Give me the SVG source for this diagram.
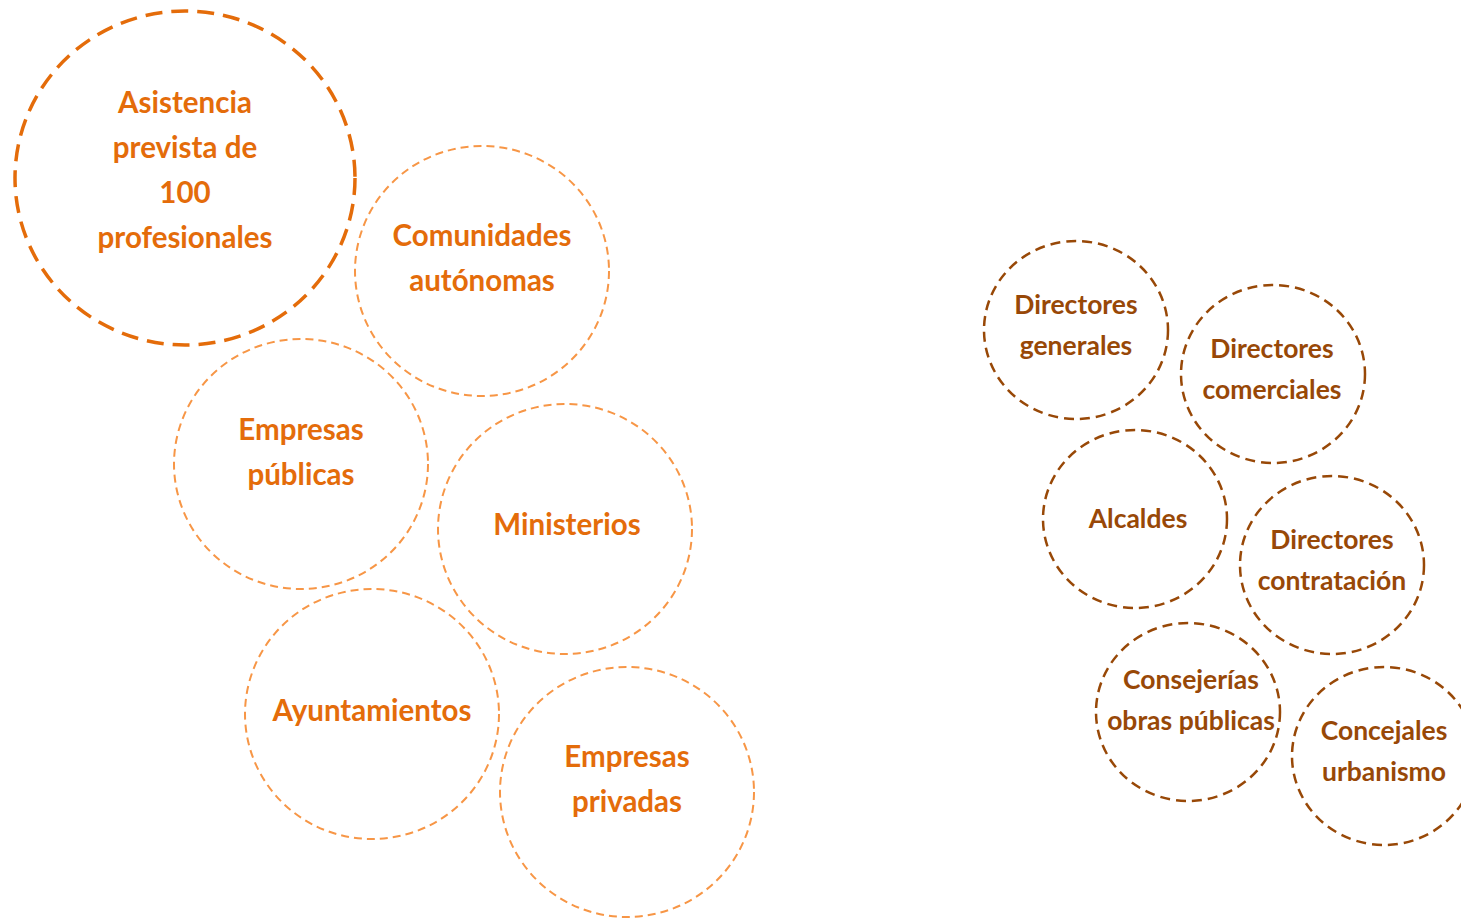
<svg xmlns="http://www.w3.org/2000/svg" width="1461" height="919" viewBox="0 0 1461 919">
<style>
.big{fill:none;stroke:#E46C0A;stroke-width:3.5;stroke-dasharray:17 9}
.lo{fill:none;stroke:#F79646;stroke-width:2;stroke-dasharray:8 5}
.br{fill:none;stroke:#984807;stroke-width:2.5;stroke-dasharray:10 6}
.to{fill:#E46C0A;font-family:Lato,"Open Sans",sans-serif;font-weight:bold;font-size:29.5px;text-anchor:middle}
.tb{fill:#984807;font-family:Lato,"Open Sans",sans-serif;font-weight:bold;font-size:26.5px;text-anchor:middle}
</style>
<rect width="1461" height="919" fill="#fff"/>
<g id="connectors"/>
<g id="asistencia">
<ellipse class="big" cx="185" cy="178" rx="170" ry="167"/>
<text class="to" x="185" y="113">Asistencia</text>
<text class="to" x="185" y="158">prevista de</text>
<text class="to" x="185" y="203">100</text>
<text class="to" x="185" y="248">profesionales</text>
</g>
<g id="comunidades">
<ellipse class="lo" cx="482" cy="271" rx="127" ry="125"/>
<text class="to" x="482" y="246">Comunidades</text>
<text class="to" x="482" y="291">autónomas</text>
</g>
<g id="empresas-publicas">
<ellipse class="lo" cx="301" cy="464" rx="127" ry="125"/>
<text class="to" x="301" y="440">Empresas</text>
<text class="to" x="301" y="485">públicas</text>
</g>
<g id="ministerios">
<ellipse class="lo" cx="565" cy="529" rx="127" ry="125"/>
<text class="to" x="567" y="535">Ministerios</text>
</g>
<g id="ayuntamientos">
<ellipse class="lo" cx="372" cy="714" rx="127" ry="125"/>
<text class="to" x="372" y="721">Ayuntamientos</text>
</g>
<g id="empresas-privadas">
<ellipse class="lo" cx="627" cy="792" rx="127" ry="125"/>
<text class="to" x="627" y="767">Empresas</text>
<text class="to" x="627" y="812">privadas</text>
</g>
<g id="directores-generales">
<ellipse class="br" cx="1076" cy="330" rx="92" ry="89"/>
<text class="tb" x="1076" y="314">Directores</text>
<text class="tb" x="1076" y="355">generales</text>
</g>
<g id="directores-comerciales">
<ellipse class="br" cx="1273" cy="374" rx="92" ry="89"/>
<text class="tb" x="1272" y="358">Directores</text>
<text class="tb" x="1272" y="399">comerciales</text>
</g>
<g id="alcaldes">
<ellipse class="br" cx="1135" cy="519" rx="92" ry="89"/>
<text class="tb" x="1138" y="528">Alcaldes</text>
</g>
<g id="directores-contratacion">
<ellipse class="br" cx="1332" cy="565" rx="92" ry="89"/>
<text class="tb" x="1332" y="549">Directores</text>
<text class="tb" x="1332" y="590">contratación</text>
</g>
<g id="consejerias">
<ellipse class="br" cx="1188" cy="712" rx="92" ry="89"/>
<text class="tb" x="1191" y="689">Consejerías</text>
<text class="tb" x="1191" y="730">obras públicas</text>
</g>
<g id="concejales">
<ellipse class="br" cx="1384" cy="756" rx="92" ry="89"/>
<text class="tb" x="1384" y="740">Concejales</text>
<text class="tb" x="1384" y="781">urbanismo</text>
</g>
</svg>
